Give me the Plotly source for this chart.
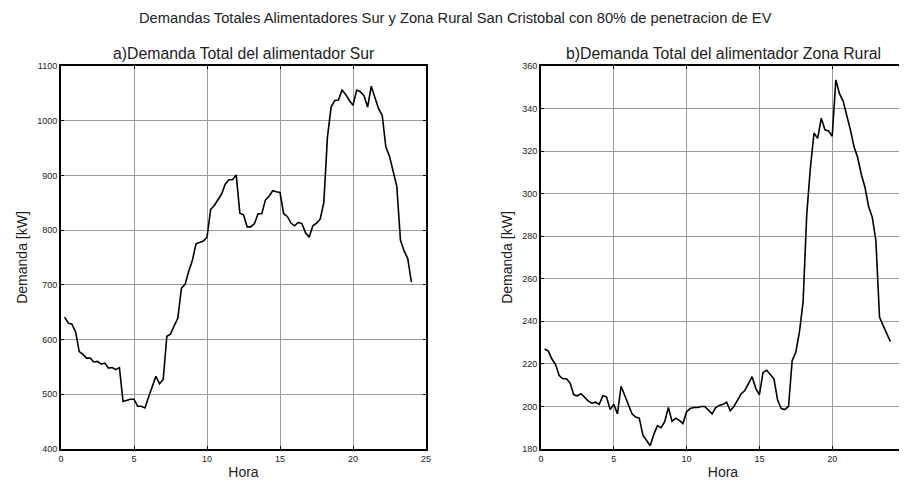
import plotly.graph_objects as go

hora = [0.25 * i for i in range(1, 97)]

demanda_sur = [
    641, 630, 628, 614, 578, 573, 566, 566, 559, 560, 555, 557, 548, 549, 545, 549,
    487, 489, 491, 491, 478, 478, 475, 495, 515, 533, 519, 527, 606, 610, 625, 639,
    694, 701, 725, 745, 775, 777, 780, 787, 838, 845, 856, 866, 884, 892, 892, 901,
    831, 828, 806, 806, 812, 830, 830, 855, 862, 872, 870, 869, 830, 825, 813, 808,
    814, 812, 795, 787, 808, 813, 820, 850, 970, 1025, 1037, 1038, 1056, 1048, 1037, 1028,
    1056, 1053, 1046, 1025, 1063, 1044, 1022, 1010, 952, 935, 908, 880, 782, 762, 748, 705,
]

demanda_rural = [
    227, 226, 222.3, 219.7, 214.5, 213, 213, 211, 205.5, 205, 206, 204, 202.5, 201.5, 202, 201,
    205, 204.5, 198.5, 201, 196.5, 209.5, 205, 200.5, 196.5, 195, 194.5, 186.5, 184, 181.5, 187, 191,
    190, 193, 199.5, 193, 194.5, 193.5, 192, 197.5, 199, 199.5, 199.5, 200, 200, 198, 196.5, 199.5,
    200.5, 201, 202, 198, 200, 203, 206, 207.5, 210.5, 214, 208.5, 205.5, 216, 217, 215, 213,
    203, 199, 198.5, 200, 221.5, 225.5, 235, 249, 290, 312, 328.5, 326, 335.5, 330, 329.5, 327,
    353.5, 347, 343.5, 337, 330, 322, 317, 309, 303, 294, 289, 278, 242, 238, 234, 230.5,
]

titulo = "Demandas Totales Alimentadores Sur y Zona Rural San Cristobal con 80% de penetracion de EV"
titulo_a = "a)Demanda Total del alimentador Sur"
titulo_b = "b)Demanda Total del alimentador Zona Rural"

FONT = "Liberation Sans, Arial, sans-serif"
O = 8  # default page body margin
W, H = 907 - O, 481 - O

fig = go.Figure()
fig.add_trace(go.Scatter(x=hora, y=demanda_sur, mode="lines",
                         line=dict(color="black", width=1.6), xaxis="x", yaxis="y",
                         showlegend=False))
fig.add_trace(go.Scatter(x=hora, y=demanda_rural, mode="lines",
                         line=dict(color="black", width=1.6), xaxis="x2", yaxis="y2",
                         showlegend=False))

ydom = [(H - (449 - O)) / H, (H - (66 - O)) / H]
xdom1 = [(61 - O) / W, (426 - O) / W]
xdom2 = [(541 - O) / W, (905 - O) / W]

common_x = dict(range=[0, 25], tickvals=[0, 5, 10, 15, 20, 25], showgrid=True,
                gridcolor="#9a9a9a", gridwidth=1, showline=True, linecolor="black",
                linewidth=2, mirror="ticks", ticks="inside", ticklen=3, tickcolor="black",
                tickfont=dict(size=9, color="#222"), zeroline=False, automargin=False,
                title=dict(text="Hora", font=dict(size=14, color="#222"), standoff=4))
common_y = dict(showgrid=True, gridcolor="#9a9a9a", gridwidth=1, showline=True,
                linecolor="black", linewidth=2, mirror="ticks", ticks="inside", ticklen=3,
                tickcolor="black", tickfont=dict(size=9, color="#222"), zeroline=False,
                automargin=False,
                title=dict(text="Demanda [kW]", font=dict(size=14, color="#222"), standoff=6))

fig.update_layout(
    width=W, height=H,
    margin=dict(l=0, r=0, t=0, b=0, autoexpand=False),
    paper_bgcolor="white", plot_bgcolor="white",
    font=dict(family=FONT, color="#222"),
    xaxis=dict(domain=xdom1, anchor="y", **common_x),
    yaxis=dict(domain=ydom, anchor="x", range=[400, 1100],
               tickvals=[400, 500, 600, 700, 800, 900, 1000, 1100], **common_y),
    xaxis2=dict(domain=xdom2, anchor="y2", **common_x),
    yaxis2=dict(domain=ydom, anchor="x2", range=[180, 360],
                tickvals=[180, 200, 220, 240, 260, 280, 300, 320, 340, 360], **common_y),
    annotations=[
        dict(text=titulo, x=(455 - O) / W, y=1 - (18 - O) / H, xref="paper", yref="paper",
             showarrow=False, font=dict(size=14.7, family=FONT, color="#222"),
             xanchor="center", yanchor="middle"),
        dict(text=titulo_a, x=sum(xdom1) / 2, y=ydom[1], xref="paper", yref="paper",
             yshift=2, showarrow=False, font=dict(size=15.8, family=FONT, color="#222"),
             xanchor="center", yanchor="bottom"),
        dict(text=titulo_b, x=sum(xdom2) / 2, y=ydom[1], xref="paper", yref="paper",
             yshift=2, showarrow=False, font=dict(size=15.8, family=FONT, color="#222"),
             xanchor="center", yanchor="bottom"),
    ],
)

fig.write_html("out.html")
